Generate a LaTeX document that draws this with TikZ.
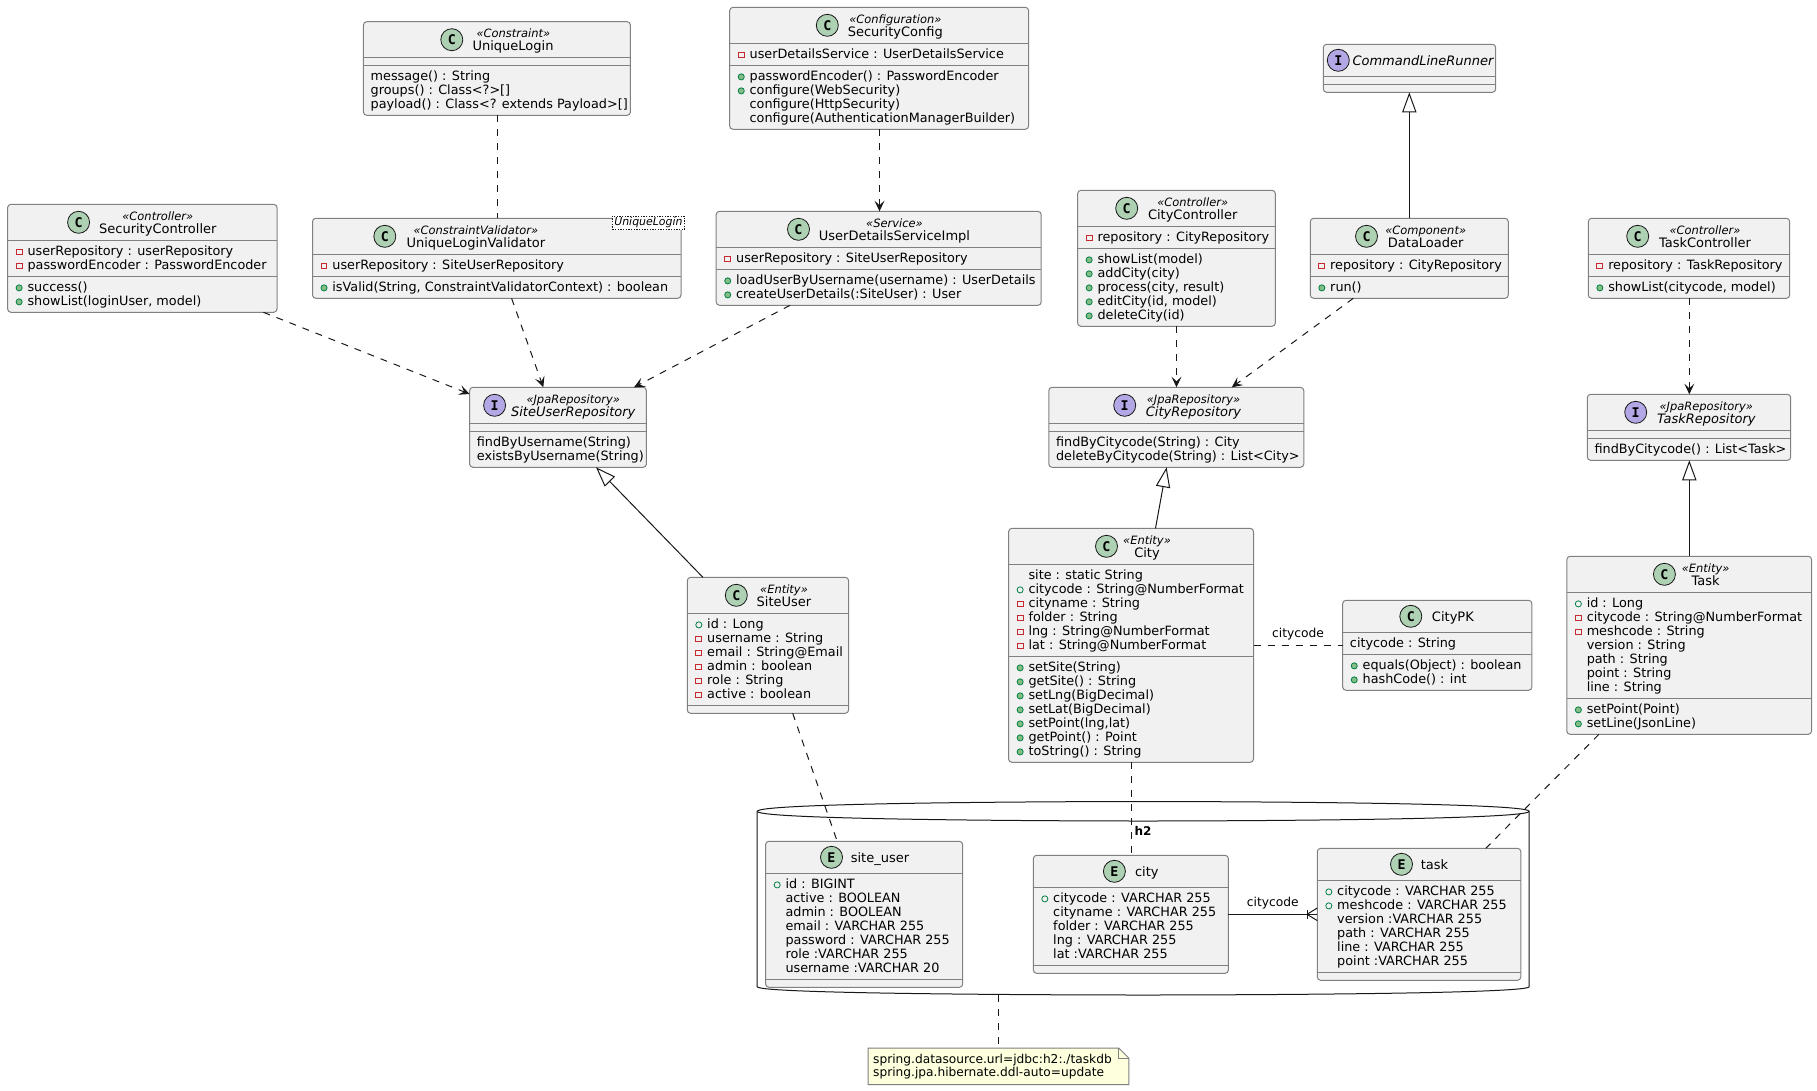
\documentclass[tikz,border=0pt]{standalone}
\usepackage{fontspec}
\setmainfont{DejaVu Sans}
\newfontfamily\spotfont{DejaVu Sans Mono}
\usetikzlibrary{arrows.meta,backgrounds}
\definecolor{boxfill}{HTML}{F1F1F1}
\definecolor{boxline}{HTML}{808080}
\definecolor{inkline}{HTML}{181818}
\definecolor{spotgreen}{HTML}{ADD1B2}
\definecolor{spotpurple}{HTML}{B4A7E5}
\definecolor{notefill}{HTML}{FEFFDD}
\definecolor{privred}{HTML}{C82930}
\definecolor{pubgreen}{HTML}{038048}
\definecolor{pubfill}{HTML}{84BE84}

% one row of a compartment: mark, then the text
\newcommand{\mbare}{\rule[-2.5pt]{0pt}{10pt}}
\newcommand{\rowmark}[1]{\mbare\makebox[9.5pt][l]{\hspace{0.6pt}\tikz[baseline=-3pt]{#1}}}
\newcommand{\mpriv}{\rowmark{\draw[privred,line width=.6pt] (-2.2pt,-2.2pt) rectangle (2.2pt,2.2pt);}}
\newcommand{\mpubo}{\rowmark{\draw[pubgreen,line width=.6pt] (0,0) circle (2.3pt);}}
\newcommand{\mpubf}{\rowmark{\draw[pubgreen,fill=pubfill,line width=.6pt] (0,0) circle (2.3pt);}}
\newcommand{\mnone}{\mbare\hspace{9.5pt}}

% frame of a class: name, x0, y0, x1, y1, first and second separator
\newcommand{\umlbox}[7]{%
  \node[classbox, minimum width={(#4-#2)*0.75pt}, minimum height={(#5-#3)*0.75pt}] (#1) at ({(#2+#4)/2},{(#3+#5)/2}) {};
  \draw[sepline] (#1.west |- 0,#6) -- (#1.east |- 0,#6);
  \draw[sepline] (#1.west |- 0,#7) -- (#1.east |- 0,#7);
}

\begin{document}
\begin{tikzpicture}[
    x=0.75pt, y=-0.75pt,
    classbox/.style={draw=boxline, fill=boxfill, line width=.75pt, rounded corners=2.5pt, inner sep=0pt, outer sep=0pt},
    sepline/.style={draw=boxline, line width=.75pt},
    spot/.style={circle, draw=inkline, line width=.6pt, minimum size=16.5pt, inner sep=0pt, font=\spotfont\fontsize{10}{10}\selectfont\bfseries, fill=spotgreen},
    ispot/.style={spot, fill=spotpurple},
    stereo/.style={anchor=base, inner sep=0pt, font=\fontsize{8.6}{9}\selectfont\itshape},
    cname/.style={anchor=base, inner sep=0pt, font=\fontsize{9.75}{10.5}\selectfont},
    iname/.style={cname, font=\fontsize{9.75}{10.5}\selectfont\itshape},
    members/.style={anchor=north west, inner sep=0pt, align=left, font=\fontsize{9.6}{10.5}\selectfont},
    small/.style={inner sep=0pt, font=\fontsize{9.2}{10.5}\selectfont},
    dep/.style={-{Stealth[length=8pt,width=7.5pt,inset=3.5pt]}, draw=inkline, line width=.75pt, dash pattern=on 5.25pt off 5.25pt},
    assoc/.style={draw=inkline, line width=.75pt, dash pattern=on 5.25pt off 5.25pt},
    extend/.style={{Triangle[open,fill=white,length=15pt,width=10.7pt]}-, draw=inkline, line width=.75pt},
    rel/.style={draw=inkline, line width=.75pt}
]
\useasboundingbox (0,0) rectangle (1817,1090);

% database outline
\draw[rel, fill=white] (757.2,811.3) .. controls (757.2,801.5) and (1143.2,801.5) .. (1143.2,801.5)
    .. controls (1143.2,801.5) and (1529.2,801.5) .. (1529.2,811.3)
    -- (1529.2,986.7) .. controls (1529.2,995) and (1143.2,995) .. (1143.2,995)
    .. controls (1143.2,995) and (757.2,995) .. (757.2,986.7) -- cycle;
\draw[rel] (757.2,811.3) .. controls (757.2,821) and (1143.2,821) .. (1143.2,821)
    .. controls (1143.2,821) and (1529.2,821) .. (1529.2,811.3);
\node[small, font=\fontsize{9}{10.5}\selectfont\bfseries, anchor=base] (h2label) at (1143,835) {h2};
\coordinate (h2south) at (998.3,995);

\umlbox{uniquelogin}{363.4}{21.7}{630.4}{115.3}{57.3}{65.3}
\node[spot] (uniquelogin-c) at (451.8,39.7) {C};
\node[stereo] (uniquelogin-s) at (513.4,37.4) {«Constraint»};
\node[cname] (uniquelogin-n) at (513,50.7) {UniqueLogin};
\node[members] (uniquelogin-m) at (370.4,70.6) {\mbare message() : String\\\mbare groups() : Class<?>[]\\\mbare payload() : Class<? extends Payload>[]};

\umlbox{securityctrl}{7.6}{204.3}{277}{312.3}{240.3}{276.3}
\node[spot] (securityctrl-c) at (78.6,222.3) {C};
\node[stereo] (securityctrl-s) at (157.8,220) {«Controller»};
\node[cname] (securityctrl-n) at (157.8,233.3) {SecurityController};
\node[members] (securityctrl-a) at (14.6,245.6) {\mpriv userRepository : userRepository\\\mpriv passwordEncoder : PasswordEncoder};
\node[members] (securityctrl-m) at (14.6,281.6) {\mpubf success()\\\mpubf showList(loginUser, model)};

\umlbox{validator}{312.5}{218.3}{681}{298.3}{254.3}{276.3}
\node[spot] (validator-c) at (384.8,236.3) {C};
\node[stereo] (validator-s) at (475.9,234) {«ConstraintValidator»};
\node[cname] (validator-n) at (475.9,247.3) {UniqueLoginValidator};
\node[members] (validator-a) at (319.5,259.6) {\mpriv userRepository : SiteUserRepository};
\node[members] (validator-m) at (319.5,281.6) {\mpubf isValid(String, ConstraintValidatorContext) : boolean};
\node[draw=inkline, fill=white, line width=.5pt, dash pattern=on 1pt off 1pt, inner sep=0pt, minimum width=54pt, minimum height=10.3pt, font=\fontsize{8.2}{9}\selectfont\itshape] (validator-t) at (648.4,222.8) {UniqueLogin};

\umlbox{siteuserrepo}{469.6}{387.3}{646.4}{467.3}{423.3}{431.3}
\node[ispot] (siteuserrepo-c) at (494.6,405.3) {I};
\node[stereo] (siteuserrepo-s) at (573.2,403) {«JpaRepository»};
\node[iname] (siteuserrepo-n) at (573.2,416.3) {SiteUserRepository};
\node[members] (siteuserrepo-m) at (476.6,436.6) {\mbare findByUsername(String)\\\mbare existsByUsername(String)};

\umlbox{securityconfig}{729.7}{7.3}{1028.6}{129.3}{43.3}{65.3}
\node[spot] (securityconfig-c) at (827.3,25.3) {C};
\node[stereo] (securityconfig-s) at (895.3,23) {«Configuration»};
\node[cname] (securityconfig-n) at (895.3,36.3) {SecurityConfig};
\node[members] (securityconfig-a) at (736.7,48.6) {\mpriv userDetailsService : UserDetailsService};
\node[members] (securityconfig-m) at (736.7,70.6) {\mpubf passwordEncoder() : PasswordEncoder\\\mpubf configure(WebSecurity)\\\mnone configure(HttpSecurity)\\\mnone configure(AuthenticationManagerBuilder)};

\umlbox{detailsimpl}{716.2}{211.3}{1041.2}{305.3}{247.3}{269.3}
\node[spot] (detailsimpl-c) at (798.5,229.3) {C};
\node[stereo] (detailsimpl-s) at (894.5,227) {«Service»};
\node[cname] (detailsimpl-n) at (894.5,240.3) {UserDetailsServiceImpl};
\node[members] (detailsimpl-a) at (723.2,252.6) {\mpriv userRepository : SiteUserRepository};
\node[members] (detailsimpl-m) at (723.2,274.6) {\mpubf loadUserByUsername(username) : UserDetails\\\mpubf createUserDetails(:SiteUser) : User};

\umlbox{cityctrl}{1077.6}{190.3}{1275.3}{326.3}{226.3}{248.3}
\node[spot] (cityctrl-c) at (1126.7,208.3) {C};
\node[stereo] (cityctrl-s) at (1192.7,206) {«Controller»};
\node[cname] (cityctrl-n) at (1192.7,219.3) {CityController};
\node[members] (cityctrl-a) at (1084.6,231.6) {\mpriv repository : CityRepository};
\node[members] (cityctrl-m) at (1084.6,253.6) {\mpubf showList(model)\\\mpubf addCity(city)\\\mpubf process(city, result)\\\mpubf editCity(id, model)\\\mpubf deleteCity(id)};

\umlbox{cityrepo}{1048.8}{387.3}{1303.8}{467.3}{423.3}{431.3}
\node[ispot] (cityrepo-c) at (1124.7,405.3) {I};
\node[stereo] (cityrepo-s) at (1193.5,403) {«JpaRepository»};
\node[iname] (cityrepo-n) at (1193.5,416.3) {CityRepository};
\node[members] (cityrepo-m) at (1055.8,436.6) {\mbare findByCitycode(String) : City\\\mbare deleteByCitycode(String) : List<City>};

\umlbox{cmdrunner}{1323.3}{44.3}{1495.7}{92.3}{76.3}{84.3}
\node[ispot] (cmdrunner-c) at (1338.3,60.3) {I};
\node[iname] (cmdrunner-n) at (1423,65.3) {CommandLineRunner};

\umlbox{dataloader}{1310.3}{218.3}{1508.3}{298.3}{254.3}{276.3}
\node[spot] (dataloader-c) at (1366.5,236.3) {C};
\node[stereo] (dataloader-s) at (1425.7,234) {«Component»};
\node[cname] (dataloader-n) at (1425.7,247.3) {DataLoader};
\node[members] (dataloader-a) at (1317.3,259.6) {\mpriv repository : CityRepository};
\node[members] (dataloader-m) at (1317.3,281.6) {\mpubf run()};

\umlbox{taskctrl}{1588.3}{218.3}{1789.7}{298.3}{254.3}{276.3}
\node[spot] (taskctrl-c) at (1637.7,236.3) {C};
\node[stereo] (taskctrl-s) at (1705,234) {«Controller»};
\node[cname] (taskctrl-n) at (1705,247.3) {TaskController};
\node[members] (taskctrl-a) at (1595.3,259.6) {\mpriv repository : TaskRepository};
\node[members] (taskctrl-m) at (1595.3,281.6) {\mpubf showList(citycode, model)};

\umlbox{taskrepo}{1587.3}{394.3}{1790.7}{460.3}{430.3}{438.3}
\node[ispot] (taskrepo-c) at (1635.7,412.3) {I};
\node[stereo] (taskrepo-s) at (1706.3,410) {«JpaRepository»};
\node[iname] (taskrepo-n) at (1706.3,423.3) {TaskRepository};
\node[members] (taskrepo-m) at (1594.3,443.6) {\mbare findByCitycode() : List<Task>};

\umlbox{siteuser}{687.3}{577.3}{848.6}{713.3}{613.3}{705.3}
\node[spot] (siteuser-c) at (736.3,595.3) {C};
\node[stereo] (siteuser-s) at (784,593) {«Entity»};
\node[cname] (siteuser-n) at (784,606.3) {SiteUser};
\node[members] (siteuser-a) at (694.3,618.6) {\mpubo id : Long\\\mpriv username : String\\\mpriv email : String@Email\\\mpriv admin : boolean\\\mpriv role : String\\\mpriv active : boolean};

\umlbox{city}{1008.6}{528.3}{1253.5}{762.3}{564.3}{656.3}
\node[spot] (city-c) at (1106.5,546.3) {C};
\node[stereo] (city-s) at (1147,544) {«Entity»};
\node[cname] (city-n) at (1147,557.3) {City};
\node[members] (city-a) at (1015.6,569.6) {\mnone site : static String\\\mpubo citycode : String@NumberFormat\\\mpriv cityname : String\\\mpriv folder : String\\\mpriv lng : String@NumberFormat\\\mpriv lat : String@NumberFormat};
\node[members] (city-m) at (1015.6,661.6) {\mpubf setSite(String)\\\mpubf getSite() : String\\\mpubf setLng(BigDecimal)\\\mpubf setLat(BigDecimal)\\\mpubf setPoint(lng,lat)\\\mpubf getPoint() : Point\\\mpubf toString() : String};

\umlbox{citypk}{1342.7}{600.3}{1531.9}{690.3}{632.3}{654.3}
\node[spot] (citypk-c) at (1410.8,616.3) {C};
\node[cname] (citypk-n) at (1452.9,621.5) {CityPK};
\node[members] (citypk-a) at (1349.7,637.6) {\mbare citycode : String};
\node[members] (citypk-m) at (1349.7,659.6) {\mpubf equals(Object) : boolean\\\mpubf hashCode() : int};

\umlbox{task}{1566.8}{556.3}{1811.6}{734.3}{592.3}{698.3}
\node[spot] (task-c) at (1664.4,574.3) {C};
\node[stereo] (task-s) at (1705.6,572) {«Entity»};
\node[cname] (task-n) at (1705.6,585.3) {Task};
\node[members] (task-a) at (1573.8,597.6) {\mpubo id : Long\\\mpriv citycode : String@NumberFormat\\\mpriv meshcode : String\\\mnone version : String\\\mnone path : String\\\mnone point : String\\\mnone line : String};
\node[members] (task-m) at (1573.8,703.6) {\mpubf setPoint(Point)\\\mpubf setLine(JsonLine)};

\umlbox{siteusertbl}{765.6}{841.3}{962.7}{987.3}{873.3}{979.3}
\node[spot] (siteusertbl-c) at (831.5,857.3) {E};
\node[cname] (siteusertbl-n) at (880,862.5) {site\_user};
\node[members] (siteusertbl-a) at (772.6,878.6) {\mpubo id : BIGINT\\\mnone active : BOOLEAN\\\mnone admin : BOOLEAN\\\mnone email : VARCHAR 255\\\mnone password : VARCHAR 255\\\mnone role :VARCHAR 255\\\mnone username :VARCHAR 20};

\umlbox{citytbl}{1033.3}{855.3}{1228.4}{973.3}{887.3}{965.3}
\node[spot] (citytbl-c) at (1114.4,871.3) {E};
\node[cname] (citytbl-n) at (1146.8,876.5) {city};
\node[members] (citytbl-a) at (1040.3,892.6) {\mpubo citycode : VARCHAR 255\\\mnone cityname : VARCHAR 255\\\mnone folder : VARCHAR 255\\\mnone lng : VARCHAR 255\\\mnone lat :VARCHAR 255};

\umlbox{tasktbl}{1317.3}{848.3}{1520.8}{980.3}{880.3}{972.3}
\node[spot] (tasktbl-c) at (1401.5,864.3) {E};
\node[cname] (tasktbl-n) at (1434.5,869.5) {task};
\node[members] (tasktbl-a) at (1324.3,885.6) {\mpubo citycode : VARCHAR 255\\\mpubo meshcode : VARCHAR 255\\\mnone version :VARCHAR 255\\\mnone path : VARCHAR 255\\\mnone line : VARCHAR 255\\\mnone point :VARCHAR 255};

% note under the database
\node[inner sep=0pt, minimum width=195pt, minimum height=27pt, font=\fontsize{9.15}{10}\selectfont, align=left, text width=188pt] (dbnote) at (998.5,1066.3) {spring.datasource.url=jdbc:h2:./taskdb\\spring.jpa.hibernate.ddl-auto=update};
\begin{scope}[on background layer]
\draw[boxline, fill=notefill, line width=.75pt] (dbnote.south west) -- (dbnote.north west) -- ([xshift=-7.5pt]dbnote.north east) -- ([yshift=-7.5pt]dbnote.north east) -- (dbnote.south east) -- cycle;
\draw[boxline, line width=.75pt] ([xshift=-7.5pt]dbnote.north east) -- ([xshift=-7.5pt,yshift=-7.5pt]dbnote.north east) -- ([yshift=-7.5pt]dbnote.north east);
\end{scope}

% connectors
\draw[assoc] (497.3,0 |- uniquelogin.south) -- (497.3,0 |- validator.north);
\draw[dep] (263.4,0 |- securityctrl.south) -- (siteuserrepo.west |- 0,394);
\draw[dep] (511.6,0 |- validator.south) -- (543.3,0 |- siteuserrepo.north);
\draw[dep] (790,0 |- detailsimpl.south) -- (634,0 |- siteuserrepo.north);
\draw[dep] (879.5,0 |- securityconfig.south) -- (879.5,0 |- detailsimpl.north);
\draw[dep] (1176.5,0 |- cityctrl.south) -- (1176.5,0 |- cityrepo.north);
\draw[dep] (1353.3,0 |- dataloader.south) -- (1231.8,0 |- cityrepo.north);
\draw[dep] (1689.3,0 |- taskctrl.south) -- (1689.3,0 |- taskrepo.north);
\draw[extend] (1409.3,0 |- cmdrunner.south) -- (1409.3,0 |- dataloader.north);
\draw[extend] (1689.3,0 |- taskrepo.south) -- (1689.3,0 |- task.north);
\draw[extend] (596,0 |- siteuserrepo.south) -- (702.9,0 |- siteuser.north);
\draw[extend] (1166.6,0 |- cityrepo.south) -- (1155.5,0 |- city.north);
\draw[assoc] (city.east |- 0,645.3) -- node[small, above=3.5pt] (pklabel) {citycode} (citypk.west |- 0,645.3);
\draw[assoc] (792.7,0 |- siteuser.south) -- (837.2,0 |- siteusertbl.north);
\draw[assoc] (1131.5,0 |- city.south) -- (1131.5,0 |- citytbl.north);
\draw[assoc] (1598.9,0 |- task.south) -- (1485.8,0 |- tasktbl.north);
\draw[rel] (citytbl.east |- 0,914.3) -- node[small, above=3.5pt] (fklabel) {citycode} (tasktbl.west |- 0,914.3);
\draw[rel] (tasktbl.west |- 0,908) -- (1307,914.3) -- (tasktbl.west |- 0,920.6);
\draw[rel] (1307,910) -- (1307,918.6);
\draw[assoc] (h2south) -- (998.3,0 |- dbnote.north);

\end{tikzpicture}
\end{document}
